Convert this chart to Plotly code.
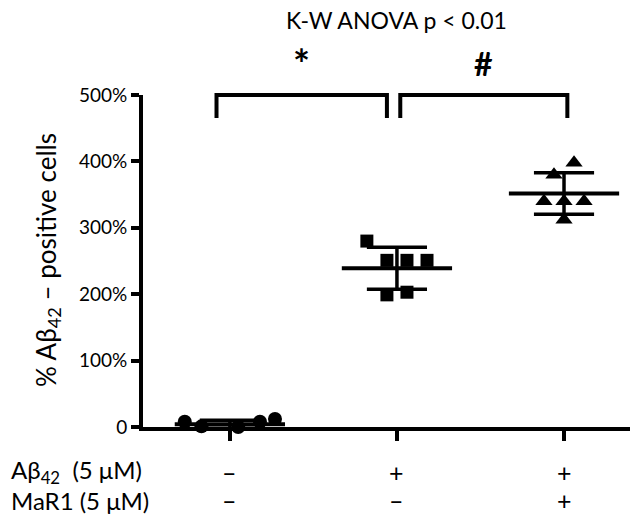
import plotly.graph_objects as go
import numpy as np

groups = ["Control", "Aβ42", "Aβ42 + MaR1"]
ctrl_vals = [8, 1, -4, 0, 8, 12]
abeta_vals = [280, 251, 251, 251, 199, 203]
mar1_vals = [398, 380, 340, 340, 340, 312]
ctrl_jitter = [-0.27, -0.17, -0.06, 0.05, 0.18, 0.27]
abeta_jitter = [-0.18, -0.06, 0.06, 0.18, -0.06, 0.06]
mar1_jitter = [0.06, -0.06, -0.12, 0.0, 0.12, 0.0]
symbols = ["circle", "square", "triangle-up"]
ytick_vals = [0, 100, 200, 300, 400, 500]
ytick_text = ["0", "100%", "200%", "300%", "400%", "500%"]
abeta_row = ["–", "+", "+"]
mar1_row = ["–", "–", "+"]
sig_marks = ["*", "#"]

W, H = 643, 519
L, R, T, B = 143, 13, 95, 92
FONT = "Lato"

fig = go.Figure()
all_vals = [ctrl_vals, abeta_vals, mar1_vals]
all_jit = [ctrl_jitter, abeta_jitter, mar1_jitter]
sizes = [14, 13, 15]
for i, (vals, jit) in enumerate(zip(all_vals, all_jit)):
    xs = [i + j for j in jit]
    fig.add_trace(go.Scatter(x=xs, y=vals, mode="markers",
                             marker=dict(symbol=symbols[i], size=sizes[i], color="black"),
                             cliponaxis=False, showlegend=False))
    m = float(np.mean(vals))
    sd = float(np.std(vals, ddof=1))
    fig.add_trace(go.Scatter(x=[i - 0.33, i + 0.33], y=[m, m], mode="lines",
                             line=dict(color="black", width=4), cliponaxis=False, showlegend=False))
    for v in (m - sd, m + sd):
        fig.add_trace(go.Scatter(x=[i - 0.18, i + 0.18], y=[v, v], mode="lines",
                                 line=dict(color="black", width=3.5), cliponaxis=False, showlegend=False))
    fig.add_trace(go.Scatter(x=[i, i], y=[m - sd, m + sd], mode="lines",
                             line=dict(color="black", width=3.5), cliponaxis=False, showlegend=False))

ymax = 500.0
def py(pixel_y):
    return (H - B - pixel_y) / (H - B - T)

def px(pixel_x):
    return (pixel_x - L) / (W - L - R)

brackets = [(0, 1), (1, 2)]
offs = [(-0.08, -0.06), (0.02, 0.02)]
mark_y = [64, 64]
mark_size = [40, 32]
for (a, b), (oa, ob), mark, my, ms in zip(brackets, offs, sig_marks, mark_y, mark_size):
    xa, xb = a + oa, b + ob
    fig.add_shape(type="path", xref="x", yref="paper",
                  path=f"M {xa},{py(118)} L {xa},{py(95)} L {xb},{py(95)} L {xb},{py(118)}",
                  line=dict(color="black", width=4))
    fig.add_annotation(x=(xa + xb) / 2, xref="x", y=py(my), yref="paper",
                       xanchor="center", yanchor="middle",
                       text=f"<b>{mark}</b>", showarrow=False,
                       font=dict(family=FONT, size=ms, color="black"))

fig.add_annotation(x=1.0, xref="x", y=py(20), yref="paper", text="K-W ANOVA p < 0.01",
                   xanchor="center", yanchor="middle",
                   showarrow=False, font=dict(family=FONT, size=23, color="black"))

fig.add_annotation(x=px(47), xref="paper", y=py(260), yref="paper",
                   xanchor="center", yanchor="middle",
                   text="% Aβ<sub>42</sub> – positive cells", textangle=-90, showarrow=False,
                   font=dict(family=FONT, size=26, color="black"))

rows = [("Aβ<sub>42</sub>  (5 μM)", abeta_row, 472), ("MaR1 (5 μM)", mar1_row, 500)]
for label, signs, ypix in rows:
    fig.add_annotation(x=px(9), xref="paper", xanchor="left", yanchor="middle",
                       y=py(ypix), yref="paper", text=label, showarrow=False,
                       font=dict(family=FONT, size=24, color="black"))
    for i, s in enumerate(signs):
        fig.add_annotation(x=i, xref="x", y=py(ypix), yref="paper", text=s, showarrow=False,
                           xanchor="center", yanchor="middle",
                           font=dict(family=FONT, size=25, color="black"))

fig.update_xaxes(range=[-0.52, 2.395], tickvals=[0, 1, 2], ticktext=["", "", ""],
                 showline=True, linecolor="black", linewidth=4, ticks="outside",
                 ticklen=10, tickwidth=4, tickcolor="black", showgrid=False, zeroline=False,
                 fixedrange=True)
fig.update_yaxes(range=[0, ymax], tickvals=ytick_vals, ticktext=ytick_text,
                 showline=True, linecolor="black", linewidth=4, ticks="outside",
                 ticklen=8, tickwidth=4, tickcolor="black", showgrid=False, zeroline=False,
                 tickfont=dict(family=FONT, size=19, color="black"), fixedrange=True)

fig.update_layout(width=W, height=H, margin=dict(l=L, r=R, t=T, b=B),
                  plot_bgcolor="white", paper_bgcolor="white",
                  font=dict(family=FONT, color="black"))

fig.write_html("out.html")
